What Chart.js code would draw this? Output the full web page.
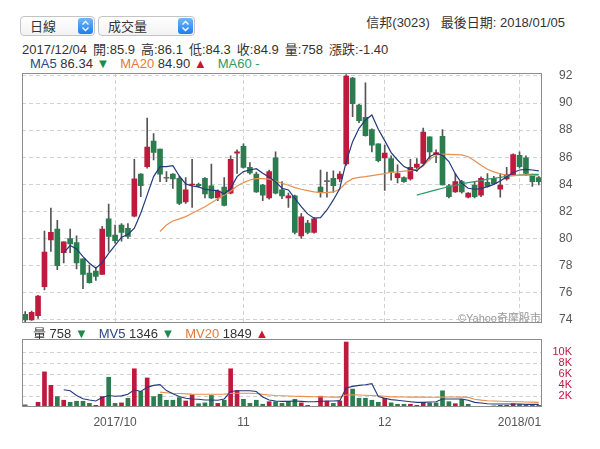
<!DOCTYPE html>
<html>
<head>
<meta charset="utf-8">
<script src="https://cdn.jsdelivr.net/npm/chart.js@4.4.1/dist/chart.umd.min.js"></script>
<style>
    body { margin: 0; width: 600px; height: 449px; background: #fff; position: relative; overflow: hidden;
           font-family: "Liberation Sans", "Noto Sans CJK TC", sans-serif; color: #333; }
    .sel { position: absolute; top: 16px; height: 20px; border: 1px solid #c4c4c4; border-radius: 4px;
           background: linear-gradient(#fff, #f2f2f2); font-size: 13px; line-height: 19px; padding-left: 9px; box-sizing: border-box; }
    .sel .btn { position: absolute; right: 1px; top: 1px; width: 15px; height: 16px; border-radius: 3px;
                background: linear-gradient(#72b6fb, #1c7ef0); }
    .sel .btn svg { position: absolute; left: 3px; top: 2px; }
    #title { position: absolute; right: 35px; top: 12px; font-size: 13px; white-space: nowrap; }
    #info { position: absolute; left: 22px; top: 39px; font-size: 13px; white-space: nowrap; }
    #info span { margin-right: 6px; }
    #ma { position: absolute; left: 30px; top: 56px; font-size: 13px; white-space: nowrap; }
    #vol { position: absolute; left: 33px; top: 323px; font-size: 13px; white-space: nowrap; }
    #mark { position: absolute; right: 59px; top: 309px; font-size: 11px; color: #999; white-space: nowrap; }
    canvas { position: absolute; left: 0; }
    .dn { color: #1f8a4c; } .up { color: #d0142f; }
</style>
</head>
<body>
<div class="sel" style="left:20px;width:75px">日線<div class="btn"><svg width="9" height="12"><path d="M1.5 4.5L4.5 1.5L7.5 4.5M1.5 7.5L4.5 10.5L7.5 7.5" stroke="#fff" stroke-width="1.4" fill="none"/></svg></div></div>
<div class="sel" style="left:98px;width:97px">成交量<div class="btn"><svg width="9" height="12"><path d="M1.5 4.5L4.5 1.5L7.5 4.5M1.5 7.5L4.5 10.5L7.5 7.5" stroke="#fff" stroke-width="1.4" fill="none"/></svg></div></div>
<div id="title">信邦(3023)&nbsp;&nbsp;&nbsp;最後日期: 2018/01/05</div>
<div id="info"><span>2017/12/04</span><span>開:85.9</span><span>高:86.1</span><span>低:84.3</span><span>收:84.9</span><span>量:758</span><span>漲跌:-1.40</span></div>
<div id="ma"><span style="color:#2b4789">MA5</span> 86.34 <span class="dn">▼</span>&nbsp;&nbsp; <span style="color:#e2793a">MA20</span> 84.90 <span class="up">▲</span>&nbsp;&nbsp; <span style="color:#2e9a60">MA60 -</span></div>
<canvas id="priceChart" width="600" height="330" style="top:0"></canvas>
<div id="mark">©Yahoo奇摩股市</div>
<div id="vol">量 758 <span class="dn">▼</span>&nbsp;&nbsp; <span style="color:#2b4789">MV5</span> 1346 <span class="dn">▼</span>&nbsp;&nbsp; <span style="color:#e2793a">MV20</span> 1849 <span class="up">▲</span></div>
<canvas id="volChart" width="600" height="119" style="top:330px"></canvas>
<script>
const dates = [
    '2017/09/12','2017/09/13','2017/09/14','2017/09/15','2017/09/18','2017/09/19','2017/09/20','2017/09/21','2017/09/22',
    '2017/09/25','2017/09/26','2017/09/27','2017/09/28','2017/09/29',
    '2017/10/02','2017/10/03','2017/10/05','2017/10/06','2017/10/09','2017/10/11','2017/10/12','2017/10/13',
    '2017/10/16','2017/10/17','2017/10/18','2017/10/19','2017/10/20','2017/10/23','2017/10/24','2017/10/25',
    '2017/10/26','2017/10/27','2017/10/30','2017/10/31',
    '2017/11/01','2017/11/02','2017/11/03','2017/11/06','2017/11/07','2017/11/08','2017/11/09','2017/11/10',
    '2017/11/13','2017/11/14','2017/11/15','2017/11/16','2017/11/17','2017/11/20','2017/11/21','2017/11/22',
    '2017/11/23','2017/11/24','2017/11/27','2017/11/28','2017/11/29','2017/11/30',
    '2017/12/01','2017/12/04','2017/12/05','2017/12/06','2017/12/07','2017/12/08','2017/12/11','2017/12/12',
    '2017/12/13','2017/12/14','2017/12/15','2017/12/18','2017/12/19','2017/12/20','2017/12/21','2017/12/22',
    '2017/12/25','2017/12/26','2017/12/27','2017/12/28','2017/12/29',
    '2018/01/02','2018/01/03','2018/01/04','2018/01/05'
];

const open = [74.4,74.0,74.3,76.45,79.9,80.7,78.95,80.0,79.7,78.5,77.45,77.6,77.35,81.45,80.25,81.0,80.75,81.65,84.75,85.3,
    87.2,86.6,84.45,84.75,84.45,82.7,83.95,84.0,84.45,83.9,83.0,83.8,83.35,86.3,86.8,85.25,84.75,83.95,83.0,85.95,
    83.6,83.0,83.15,80.2,81.15,80.45,83.8,84.2,84.45,84.4,85.5,91.85,89.85,88.95,88.05,87.0,85.95,85.9,84.5,84.5,
    84.4,85.25,85.55,87.5,86.2,87.55,83.9,83.45,84.2,83.05,83.95,83.2,84.15,84.45,83.65,84.4,84.7,86.15,85.95,84.7,84.5];
const high = [74.6,74.65,75.8,80.55,82.25,81.35,79.75,80.7,80.2,78.5,78.05,77.9,80.9,82.55,81.0,81.1,81.1,85.85,84.8,88.9,
    87.75,86.6,84.95,84.8,84.6,84.5,85.85,84.1,84.5,85.5,83.6,84.5,86.1,86.55,87.0,85.6,84.9,84.0,85.05,86.4,
    84.2,83.35,83.2,81.85,81.35,81.55,85.05,84.9,85.0,84.95,92.1,91.9,89.9,91.5,88.1,87.0,86.9,86.1,85.45,84.55,
    85.85,85.9,88.15,87.5,86.55,88.05,84.0,84.8,84.3,83.4,84.2,84.55,84.8,84.6,84.8,85.25,86.25,86.4,86.1,84.75,84.6];
const low = [73.8,73.95,74.1,76.2,79.05,77.7,78.2,78.95,77.75,76.3,76.7,76.9,77.35,79.05,79.65,79.8,80.0,81.6,83.1,85.2,
    85.8,84.2,84.2,83.7,82.5,82.6,82.3,83.8,83.0,82.95,82.8,82.4,83.3,84.8,85.2,84.75,83.4,82.8,82.9,83.3,
    82.95,82.3,80.35,80.0,80.35,80.4,83.05,83.05,83.4,84.2,85.4,89.0,88.55,87.55,86.4,85.65,83.55,84.3,84.1,84.15,
    84.3,84.95,85.5,85.8,85.6,83.95,83.0,83.4,83.35,83.0,83.0,83.1,83.8,84.0,83.05,84.3,84.65,85.2,84.65,83.85,83.95];
const close = [74.0,74.55,75.75,79.0,80.45,78.0,79.75,79.6,78.2,77.35,76.75,77.2,80.7,80.15,79.85,80.45,80.15,84.4,83.9,86.75,
    86.35,84.75,84.45,84.4,82.6,83.6,84.0,83.9,83.3,83.0,83.5,82.45,85.85,86.4,85.25,84.85,83.45,83.2,84.95,83.35,
    83.15,83.15,80.45,81.6,80.45,81.45,83.4,84.2,83.9,84.75,92.0,89.95,88.7,87.6,86.9,85.75,86.3,84.9,84.8,84.2,
    85.25,85.5,87.85,86.4,86.35,83.95,83.1,84.2,83.45,83.35,83.1,84.45,83.85,84.05,83.95,84.7,86.2,85.3,84.8,84.2,84.2];

const ma5 = [null,null,null,null,null,null,78.96,79.48,79.23,78.66,78.18,77.81,78.22,78.91,79.5,80.1,80.3,80.76,81.87,83.22,
    84.57,85.31,85.31,85.38,84.62,84.03,83.88,83.81,83.64,83.57,83.54,83.29,83.71,84.57,84.94,85.06,85.16,84.82,84.52,84.2,
    83.71,83.59,82.97,82.35,81.82,81.5,81.54,82.11,82.85,83.7,85.68,87.15,88.14,88.75,89.12,88.07,87.23,86.34,85.8,85.31,
    85.11,85.01,85.43,86.04,86.29,86.15,85.68,84.77,84.08,83.71,83.64,83.68,83.83,84.0,84.25,84.57,84.87,85.06,85.11,85.06,84.99];
const ma20 = [null,null,null,null,null,null,null,null,null,null,null,null,null,null,null,null,null,null,null,null,
    null,80.52,81.0,81.3,81.45,81.62,81.87,82.11,82.35,82.65,82.94,83.22,83.49,83.88,84.13,84.32,84.42,84.42,84.38,84.25,
    84.08,83.93,83.76,83.64,83.54,83.44,83.39,83.39,83.44,83.64,84.13,84.42,84.52,84.57,84.64,84.72,84.79,84.9,84.92,84.97,
    85.01,85.11,85.36,85.85,86.15,86.24,86.22,86.2,86.17,86.04,85.75,85.41,85.11,84.92,84.77,84.67,84.65,84.67,84.7,84.67,84.62];
const ma60 = [null,null,null,null,null,null,null,null,null,null,null,null,null,null,null,null,null,null,null,null,
    null,null,null,null,null,null,null,null,null,null,null,null,null,null,null,null,null,null,null,null,
    null,null,null,null,null,null,null,null,null,null,null,null,null,null,null,null,null,null,null,null,
    null,83.2,83.34,83.46,83.59,83.71,83.83,83.93,84.03,84.13,84.2,84.27,84.38,84.45,84.52,84.6,84.64,84.69,84.72,84.74,84.74];

const volume = [400,100,860,6400,3950,1900,1230,860,1050,1050,660,300,1900,5430,660,750,1600,6970,2830,5300,
    1900,2330,1230,1230,1720,1100,2220,600,750,2100,660,1230,6970,3000,1400,660,1230,500,970,970,
    660,970,1400,750,300,100,1970,1050,660,1100,11850,3270,1600,1600,1230,860,1600,758,500,500,
    500,300,860,750,750,2950,970,600,1400,500,100,100,100,200,300,300,600,500,300,300,300];
// 1 = up (red), -1 = down (green), 0 = unchanged (gray)
const volDir = [0,0,1,1,1,-1,1,-1,-1,-1,-1,1,1,-1,-1,1,-1,1,-1,1,
    -1,-1,-1,-1,-1,1,1,-1,-1,-1,1,-1,1,1,-1,-1,-1,-1,1,-1,
    -1,-1,-1,1,-1,-1,1,1,-1,1,1,-1,-1,-1,-1,-1,1,-1,-1,-1,
    1,1,1,-1,-1,-1,-1,1,-1,-1,-1,-1,-1,1,1,1,1,-1,-1,-1,-1];
const mv5 = [null,null,null,null,null,null,3140,2950,2090,1520,1280,1100,1720,2090,1960,2030,2330,3140,2830,3580,
    3940,4070,3000,2400,1900,1590,1470,1410,1280,1280,1220,1470,2830,2950,2950,2950,2830,1840,1280,1100,
    1030,1030,1100,1030,970,970,1030,1100,1100,1160,3450,3760,3940,4070,4260,1900,1590,1346,1220,1100,
    970,850,850,910,970,1470,1470,1470,1470,1220,850,720,600,540,540,540,540,540,480,480,480];
const mv20 = [null,null,null,null,null,null,null,null,null,null,null,null,null,null,null,null,null,null,null,null,
    null,2720,2600,2500,2450,2400,2350,2330,2330,2330,2330,2350,2450,2520,2520,2500,2450,2300,2200,2100,
    2050,2000,1960,1930,1900,1880,1850,1830,1800,1800,2200,2220,2200,2150,2100,2050,1950,1849,1840,1820,
    1800,1800,1800,1780,1780,1800,1820,1820,1800,1750,1400,1250,1150,1100,1050,1000,970,950,900,880,850];

const priceTicks = [74, 76, 78, 80, 82, 84, 86, 88, 90, 92];
const volTicks = [2000, 4000, 6000, 8000, 10000];

const RED = '#bf1a3d', GREEN = '#2b7d4f', GRAY = '#666';
const GRID = '#d2d2d2';

Chart.defaults.font.family = '"Liberation Sans", "Noto Sans CJK TC", sans-serif';
Chart.defaults.animation = false;

// month starts get a vertical grid line and a label
const monthLabel = i => {
    if (i === 0) return null;
    const [y, m] = dates[i].split('/');
    const [py, pm] = dates[i - 1].split('/');
    if (pm === m) return null;
    return (py !== y || i < 20) ? y + '/' + m : String(+m);
};

const frame = {
    id: 'frame',
    afterDraw(chart) {
        const { ctx, chartArea: a } = chart;
        ctx.save();
        ctx.strokeStyle = '#8c8c8c';
        ctx.lineWidth = 1;
        ctx.strokeRect(Math.round(a.left) + 0.5, Math.round(a.top) + 0.5,
            Math.round(a.right - a.left) - 1, Math.round(a.bottom - a.top) - 1);
        ctx.restore();
    }
};

const xGridColor = ctx => monthLabel(ctx.index) ? GRID : 'rgba(0,0,0,0)';
const candleColor = close.map((c, i) => c > open[i] ? RED : (c < open[i] ? GREEN : GRAY));

new Chart(document.getElementById('priceChart'), {
    type: 'bar',
    data: {
        labels: dates,
        datasets: [
            { type: 'line', data: ma5, borderColor: '#24397a', borderWidth: 1.2, pointRadius: 0, order: 0 },
            { type: 'line', data: ma20, borderColor: '#e8904e', borderWidth: 1.2, pointRadius: 0, order: 0 },
            { type: 'line', data: ma60, borderColor: '#2f9a6a', borderWidth: 1.2, pointRadius: 0, order: 0 },
            { data: open.map((o, i) => [o, close[i]]), backgroundColor: candleColor, barThickness: 5,
              minBarLength: 1, grouped: false, order: 1 },
            { data: low.map((l, i) => [l, high[i]]), backgroundColor: '#555', barThickness: 1,
              grouped: false, order: 2 }
        ]
    },
    options: {
        responsive: false,
        devicePixelRatio: 1,
        events: [],
        layout: { padding: { left: 22, top: 73, right: 0, bottom: 7 } },
        plugins: { legend: { display: false }, tooltip: { enabled: false } },
        scales: {
            x: {
                offset: true,
                grid: { offset: false, color: xGridColor, drawTicks: false },
                border: { display: false, dash: [4, 3] },
                ticks: { display: false, autoSkip: false },
                afterFit: s => { s.height = 0; }
            },
            y: {
                position: 'right',
                min: 73.78, max: 92.22,
                afterBuildTicks: s => { s.ticks = priceTicks.map(v => ({ value: v })); },
                // transparent tick marks push the labels away from the frame
                grid: { color: GRID, drawTicks: true, tickLength: 17, tickColor: 'rgba(0,0,0,0)' },
                border: { display: false, dash: [4, 3] },
                ticks: { padding: 0, autoSkip: false, color: '#555', font: { size: 12 } },
                afterFit: s => { s.width = 58; }
            }
        }
    },
    plugins: [frame]
});

new Chart(document.getElementById('volChart'), {
    type: 'bar',
    data: {
        labels: dates,
        datasets: [
            { type: 'line', data: mv5, borderColor: '#24397a', borderWidth: 1.1, pointRadius: 0, order: 0 },
            { type: 'line', data: mv20, borderColor: '#e8904e', borderWidth: 1.1, pointRadius: 0, order: 0 },
            { data: volume, backgroundColor: volDir.map(d => d > 0 ? RED : (d < 0 ? GREEN : GRAY)),
              barThickness: 4, grouped: false, order: 1 }
        ]
    },
    options: {
        responsive: false,
        devicePixelRatio: 1,
        events: [],
        layout: { padding: { left: 22, top: 9, right: 28, bottom: 0 } },
        plugins: { legend: { display: false }, tooltip: { enabled: false } },
        scales: {
            x: {
                offset: true,
                grid: { offset: false, color: xGridColor, drawTicks: false },
                border: { display: false, dash: [4, 3] },
                ticks: { autoSkip: false, maxRotation: 0, padding: 8, color: '#555', font: { size: 12 },
                         callback: (v, i) => monthLabel(i) },
                afterFit: s => { s.height = 42; }
            },
            y: {
                position: 'right',
                min: 0, max: 12400,
                afterBuildTicks: s => { s.ticks = volTicks.map(v => ({ value: v })); },
                grid: { color: GRID, drawTicks: true, tickLength: 10, tickColor: 'rgba(0,0,0,0)' },
                border: { display: false, dash: [4, 3] },
                ticks: { crossAlign: 'far', padding: 0, autoSkip: false, color: '#c0163f', font: { size: 11 },
                         callback: v => (v / 1000) + 'K' },
                afterFit: s => { s.width = 30; }
            }
        }
    },
    plugins: [frame]
});
</script>
</body>
</html>
